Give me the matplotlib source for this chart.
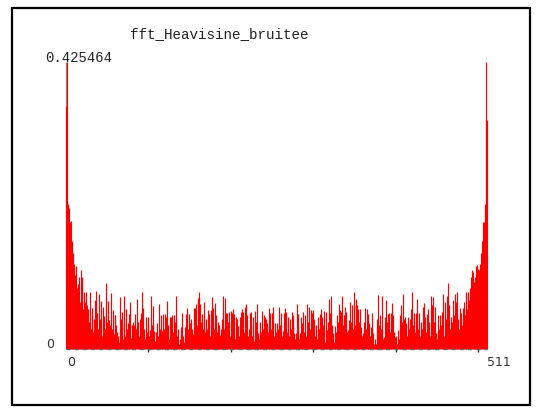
import matplotlib
matplotlib.use('Agg')
import matplotlib.pyplot as plt
import numpy as np
from matplotlib.patches import Rectangle

# magnitude spectrum values (index 0..511)
mag = [
    0.360, 0.4255, 0.215, 0.212, 0.209, 0.188, 0.190, 0.160, 0.142, 0.120, 0.126, 0.110, 0.123, 0.090, 0.096, 0.080,
    0.106, 0.070, 0.117, 0.090, 0.106, 0.060, 0.084, 0.070, 0.084, 0.065, 0.045, 0.059, 0.040, 0.084, 0.030, 0.052,
    0.061, 0.025, 0.044, 0.073, 0.040, 0.086, 0.053, 0.030, 0.081, 0.045, 0.071, 0.041, 0.020, 0.062, 0.049, 0.030,
    0.098, 0.077, 0.040, 0.071, 0.043, 0.015, 0.036, 0.083, 0.030, 0.058, 0.022, 0.050, 0.050, 0.035, 0.025, 0.020,
    0.010, 0.077, 0.025, 0.045, 0.055, 0.015, 0.079, 0.039, 0.020, 0.059, 0.030, 0.039, 0.052, 0.025, 0.069, 0.017,
    0.035, 0.040, 0.012, 0.036, 0.052, 0.030, 0.074, 0.040, 0.020, 0.014, 0.045, 0.053, 0.085, 0.030, 0.061, 0.030,
    0.015, 0.047, 0.025, 0.039, 0.047, 0.020, 0.028, 0.079, 0.035, 0.064, 0.040, 0.027, 0.012, 0.025, 0.010, 0.038,
    0.020, 0.067, 0.030, 0.050, 0.027, 0.015, 0.052, 0.030, 0.052, 0.047, 0.020, 0.071, 0.036, 0.015, 0.047, 0.030,
    0.047, 0.050, 0.025, 0.051, 0.040, 0.079, 0.045, 0.020, 0.030, 0.007, 0.015, 0.033, 0.025, 0.053, 0.020, 0.010,
    0.033, 0.020, 0.052, 0.061, 0.030, 0.052, 0.039, 0.020, 0.044, 0.030, 0.022, 0.061, 0.040, 0.061, 0.066, 0.035,
    0.075, 0.050, 0.084, 0.067, 0.040, 0.052, 0.030, 0.069, 0.044, 0.025, 0.044, 0.030, 0.058, 0.035, 0.052, 0.020,
    0.058, 0.077, 0.040, 0.061, 0.030, 0.068, 0.050, 0.025, 0.040, 0.015, 0.035, 0.021, 0.030, 0.045, 0.079, 0.053,
    0.030, 0.076, 0.054, 0.025, 0.053, 0.040, 0.055, 0.020, 0.057, 0.053, 0.030, 0.059, 0.052, 0.015, 0.047, 0.030,
    0.044, 0.034, 0.020, 0.047, 0.055, 0.030, 0.059, 0.055, 0.025, 0.062, 0.040, 0.066, 0.050, 0.020, 0.030, 0.054,
    0.035, 0.055, 0.020, 0.048, 0.012, 0.030, 0.057, 0.040, 0.066, 0.023, 0.015, 0.037, 0.040, 0.025, 0.056, 0.030,
    0.050, 0.048, 0.020, 0.044, 0.038, 0.025, 0.061, 0.035, 0.053, 0.030, 0.053, 0.063, 0.020, 0.008, 0.039, 0.025,
    0.039, 0.030, 0.039, 0.063, 0.035, 0.053, 0.020, 0.027, 0.053, 0.030, 0.061, 0.055, 0.025, 0.038, 0.048, 0.020,
    0.044, 0.030, 0.055, 0.035, 0.050, 0.024, 0.015, 0.023, 0.066, 0.030, 0.052, 0.015, 0.023, 0.048, 0.030, 0.038,
    0.055, 0.025, 0.050, 0.020, 0.012, 0.066, 0.040, 0.062, 0.030, 0.058, 0.053, 0.025, 0.058, 0.044, 0.020, 0.033,
    0.035, 0.015, 0.048, 0.030, 0.052, 0.059, 0.025, 0.047, 0.035, 0.057, 0.011, 0.030, 0.055, 0.028, 0.040, 0.074,
    0.030, 0.053, 0.079, 0.035, 0.023, 0.010, 0.019, 0.034, 0.025, 0.050, 0.040, 0.066, 0.058, 0.030, 0.055, 0.078,
    0.035, 0.050, 0.030, 0.062, 0.055, 0.025, 0.028, 0.043, 0.030, 0.070, 0.040, 0.065, 0.030, 0.067, 0.084, 0.035,
    0.074, 0.065, 0.030, 0.059, 0.040, 0.059, 0.033, 0.020, 0.023, 0.012, 0.040, 0.061, 0.030, 0.059, 0.052, 0.025,
    0.038, 0.020, 0.033, 0.053, 0.030, 0.023, 0.008, 0.015, 0.007, 0.030, 0.045, 0.080, 0.035, 0.050, 0.030, 0.078,
    0.029, 0.015, 0.018, 0.048, 0.030, 0.072, 0.040, 0.052, 0.053, 0.025, 0.053, 0.040, 0.068, 0.050, 0.025, 0.018,
    0.011, 0.020, 0.008, 0.028, 0.015, 0.050, 0.035, 0.065, 0.040, 0.081, 0.045, 0.025, 0.047, 0.039, 0.020, 0.048,
    0.030, 0.045, 0.040, 0.059, 0.084, 0.035, 0.054, 0.040, 0.025, 0.053, 0.074, 0.030, 0.054, 0.038, 0.020, 0.040,
    0.030, 0.062, 0.040, 0.068, 0.047, 0.025, 0.052, 0.059, 0.030, 0.040, 0.020, 0.078, 0.065, 0.035, 0.077, 0.040,
    0.063, 0.023, 0.015, 0.025, 0.050, 0.030, 0.050, 0.035, 0.055, 0.081, 0.035, 0.020, 0.070, 0.045, 0.078, 0.050,
    0.098, 0.065, 0.030, 0.047, 0.012, 0.040, 0.072, 0.050, 0.081, 0.070, 0.040, 0.084, 0.044, 0.030, 0.061, 0.045,
    0.053, 0.035, 0.061, 0.070, 0.050, 0.084, 0.083, 0.060, 0.084, 0.073, 0.090, 0.107, 0.080, 0.117, 0.114, 0.100,
    0.107, 0.090, 0.123, 0.124, 0.119, 0.117, 0.126, 0.123, 0.142, 0.160, 0.189, 0.188, 0.209, 0.215, 0.4255, 0.340,
]
assert len(mag) == 512, len(mag)

title = 'fft_Heavisine_bruitee'
ymax = 0.425464
major_ticks = [100, 200, 300, 400, 500]

W, H = 537, 409
fig = plt.figure(figsize=(W / 100, H / 100), dpi=100)

# pixel -> figure fraction helpers
def fx(px):
    return px / W

def fy(py):
    return 1 - py / H

# outer black frame
fig.patches.append(Rectangle((fx(12), fy(405)), fx(530) - fx(12), fy(8) - fy(405),
                             transform=fig.transFigure, fill=False, edgecolor='black', linewidth=1.6))

ax = fig.add_axes([fx(66), fy(349), fx(487) - fx(66), fy(62) - fy(349)])
x = np.arange(len(mag))
ax.vlines(x, 0, mag, colors='red', linewidth=0.85, zorder=2, clip_on=False)
# grey y axis, only seen above the first bar
ax.vlines(0, mag[0], ymax, colors='#888888', linewidth=1, zorder=1)
ax.set_xlim(0, 511)
ax.set_ylim(0, ymax)
for s in ax.spines.values():
    s.set_visible(False)
ax.set_yticks([])
ax.set_xticks(major_ticks)
ax.set_xticklabels([])
ax.tick_params(axis='x', length=5, width=1, color='#333333', direction='inout')
# dotted x axis
ax.axhline(0, color='#666666', linewidth=1, dashes=(2.9, 3.0), zorder=3, clip_on=False)

mono = 'Liberation Mono'
fig.text(fx(130), fy(34), title, family=mono, fontsize=10.3, va='center', ha='left', color='#222222')
fig.text(fx(45), fy(57.5), '0.425464', family=mono, fontsize=10, va='center', ha='left', color='#222222')
fig.text(fx(46), fy(345), '0', fontsize=9, va='center', ha='left', color='#333333')
fig.text(fx(67.5), fy(362), '0', fontsize=9, va='center', ha='left', color='#333333')
fig.text(fx(487.5), fy(362), '511', fontsize=9, va='center', ha='left', color='#333333')

plt.savefig('out.png', dpi=100)
